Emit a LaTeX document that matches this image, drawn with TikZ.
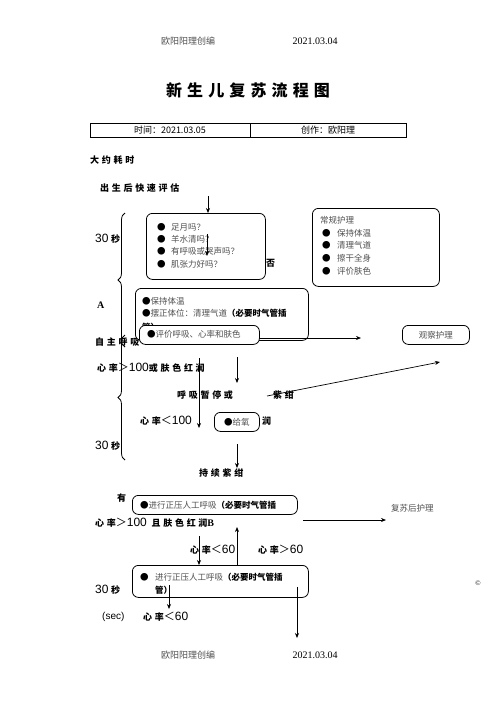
\documentclass[tikz,border=0pt]{standalone}
\usepackage{fontspec}
\setmainfont{Liberation Serif}
\newfontfamily\cjk{Noto Sans CJK SC}
\newfontfamily\cjkcal[LetterSpace=30]{Noto Sans CJK SC}
\newfontfamily\cjktitle[LetterSpace=32]{Noto Sans CJK SC}
\newfontfamily\numfont{Liberation Sans}
\usetikzlibrary{arrows.meta,decorations.pathreplacing}
\definecolor{txtgray}{HTML}{505050}
\newcommand\calx[1]{{\cjkcal\bfseries\fontsize{9}{11}\selectfont #1}}
\newcommand\numx[1]{{\numfont\fontsize{12}{12}\selectfont #1}}
\newcommand\relx[1]{{\cjk\fontsize{11}{12}\selectfont #1}}
\tikzset{
  box/.style={draw, rounded corners=6pt, line width=0.8pt, fill=white, inner sep=0pt},
  arr/.style={-{Stealth[length=5pt,width=4pt]}, line width=0.7pt},
  lbl/.style={inner sep=0pt, anchor=west},
  body/.style={font=\cjk\fontsize{8.5}{10}\selectfont, text=txtgray, inner sep=0pt, anchor=west},
  hdr/.style={font=\cjk\fontsize{9}{11}\selectfont, text=txtgray, inner sep=0pt},
  bracex/.style={decorate, decoration={brace, amplitude=7pt}, line width=0.8pt},
}
\begin{document}
\begin{tikzpicture}[x=1pt,y=-1pt]
\useasboundingbox[fill=white] (0,0) rectangle (496,702);

% header / footer
\node[hdr] (h1) at (188,41) {欧阳阳理创编};
\node[hdr, font=\fontsize{10}{12}\selectfont, text=black] (h2) at (315,41) {2021.03.04};
\node[hdr] (f1) at (188,655) {欧阳阳理创编};
\node[hdr, font=\fontsize{10}{12}\selectfont, text=black] (f2) at (315,655) {2021.03.04};

% title
\node[inner sep=0pt, font=\cjktitle\bfseries\fontsize{16}{18}\selectfont] (title) at (248,90) {新生儿复苏流程图};

% table
\draw[line width=1pt] (90,123) rectangle (406,137);
\draw[line width=1pt] (250,123) -- (250,137);
\node[hdr, text=black] (t1) at (170,130) {时间：2021.03.05};
\node[hdr, text=black] (t2) at (328,130) {创作：欧阳理};

% left labels
\node[lbl] (l0) at (90,160) {\calx{大约耗时}};
\node[lbl] (l1) at (100,188) {\calx{出生后快速评估}};
\node[lbl] (s1) at (95,239) {\numx{30} \calx{秒}};
\node[lbl, font=\bfseries\fontsize{10}{12}\selectfont] (la) at (97,305) {A};
\node[lbl] (l2) at (95,342) {\calx{自主呼吸}};
\node[lbl] (l3) at (97,368) {\calx{心率}\relx{＞}\numx{100}\calx{或肤色红润}};
\node[lbl] (l4) at (177,395) {\calx{呼吸暂停或}};
\node[lbl] (l5) at (273,395) {\calx{紫绀}};
\node[lbl] (l6) at (140,421) {\calx{心率}\relx{＜}\numx{100}};
\node[lbl] (l7) at (262,421) {\calx{润}};
\node[lbl] (s2) at (95,446) {\numx{30} \calx{秒}};
\node[lbl] (l8) at (199,473) {\calx{持续紫绀}};
\node[lbl] (l9) at (117,498) {\calx{有}};
\node[lbl] (l10) at (95,523) {\calx{心率}\relx{＞}\numx{100}\calx{ 且肤色红润}{\bfseries\fontsize{10}{12}\selectfont B}};
\node[lbl] (l11) at (190,550) {\calx{心率}\relx{＜}\numx{60}};
\node[lbl] (l12) at (258,550) {\calx{心率}\relx{＞}\numx{60}};
\node[lbl] (s3) at (95,590) {\numx{30} \calx{秒}};
\node[lbl, font=\numfont\fontsize{10}{12}\selectfont] (l13) at (102,617) {(sec)};
\node[lbl] (l14) at (143,617) {\calx{心率}\relx{＜}\numx{60}};
\node[body] (l15) at (391,508) {复苏后护理};
\node[inner sep=0pt, font=\fontsize{7}{8}\selectfont] (cp) at (478,583) {\textcopyright};

% braces
\coordinate (br1a) at (125,347); \coordinate (br1b) at (125,213);
\coordinate (br2a) at (125,460); \coordinate (br2b) at (125,335);
\draw[bracex] (br1a) -- (br1b);
\draw[bracex] (br2a) -- (br2b);

% box 1
\node[box, minimum width=119pt, minimum height=66pt, anchor=north west] (b1) at (146,213) {};
\node[body, text=black] (b1d1) at (157,227) {●};
\node[body] (b1t1) at (171,227) {足月吗？};
\node[body, text=black] (b1d2) at (157,239) {●};
\node[body] (b1t2) at (171,239) {羊水清吗？};
\node[body, text=black] (b1d3) at (157,251) {●};
\node[body] (b1t3) at (171,251) {有呼吸或哭声吗？};
\node[body, text=black] (b1d4) at (157,264) {●};
\node[body] (b1t4) at (171,264) {肌张力好吗？};
\node[lbl] (no) at (266,263) {\calx{否}};

% routine care box
\node[box, minimum width=127pt, minimum height=78pt, anchor=north west] (rc) at (312,208) {};
\node[body] (rct) at (320,220) {常规护理};
\node[body, text=black] (rcd1) at (322,233) {●};
\node[body] (rc1) at (337,233) {保持体温};
\node[body, text=black] (rcd2) at (322,245) {●};
\node[body] (rc2) at (337,245) {清理气道};
\node[body, text=black] (rcd3) at (322,258) {●};
\node[body] (rc3) at (337,258) {擦干全身};
\node[body, text=black] (rcd4) at (322,271) {●};
\node[body] (rc4) at (337,271) {评价肤色};

% box 2
\node[box, minimum width=173pt, minimum height=52pt, anchor=north west] (b2) at (135,288) {};
\node[body] (b2t1) at (142,301) {{\color{black}●}保持体温};
\node[body] (b2t2) at (142,313) {{\color{black}●}摆正体位：清理气道{\bfseries\color{black}（必要时气管插}};
\node[body] (b2t3) at (142,327) {{\bfseries\color{black}管）}};

% box 3
\node[box, minimum width=120pt, minimum height=19pt, anchor=north west] (b3) at (139,325) {};
\node[body] (b3t) at (147,334) {{\color{black}●}评价呼吸、心率和肤色};

% observe box
\node[box, minimum width=67pt, minimum height=19pt, anchor=north west] (ob) at (402,325) {};
\node[body] (obt) at (ob.center) [anchor=center] {观察护理};

% oxygen box
\node[box, minimum width=45pt, minimum height=19pt, anchor=north west] (ox) at (214,412) {};
\node[body, anchor=center] (oxt) at (ox.center) {{\color{black}●}给氧};

% box 4
\node[box, minimum width=165pt, minimum height=19pt, anchor=north west] (b4) at (132,495) {};
\node[body] (b4t) at (140,505) {{\color{black}●}进行正压人工呼吸{\bfseries\color{black}（必要时气管插}};

% box 5
\node[box, minimum width=176pt, minimum height=32pt, anchor=north west] (b5) at (132,565) {};
\node[body, text=black] (b5d) at (140,577) {●};
\node[body] (b5t1) at (155,577) {进行正压人工呼吸{\bfseries\color{black}（必要时气管插}};
\node[body] (b5t2) at (155,590) {{\bfseries\color{black}管）}};

% connectors
\coordinate (a0) at (208,196);
\draw[arr] (a0) -- (a0 |- b1.north);
\coordinate (a1s) at (207,234); \coordinate (a1e) at (207,256);
\draw[arr] (a1s) -- (a1e);
\coordinate (a2s) at (259,338); \coordinate (a2e) at (361,338);
\draw[arr] (a2s) -- (a2e);
\coordinate (a3s) at (267,396); \coordinate (a3e) at (440,362);
\draw[arr] (a3s) -- (a3e);
\coordinate (a4s) at (199,358); \coordinate (a4e) at (199,428);
\draw[arr] (a4s) -- (a4e);
\coordinate (a5s) at (237,357); \coordinate (a5e) at (237,383);
\draw[arr] (a5s) -- (a5e);
\coordinate (a6s) at (237,444); \coordinate (a6e) at (237,468);
\draw[arr] (a6s) -- (a6e);
\coordinate (a7s) at (303,520); \coordinate (a7e) at (386,520);
\draw[arr] (a7s) -- (a7e);
\coordinate (a8s) at (199,536);
\draw[arr] (a8s) -- (a8s |- b5.north);
\coordinate (a9e) at (237,527);
\draw[arr] (a9e |- b5.north) -- (a9e);
\coordinate (a10s) at (169,585); \coordinate (a10e) at (169,609);
\draw[arr] (a10s) -- (a10e);
\coordinate (a11s) at (297,587); \coordinate (a11e) at (297,638);
\draw[arr] (a11s) -- (a11e);
\end{tikzpicture}
\end{document}
